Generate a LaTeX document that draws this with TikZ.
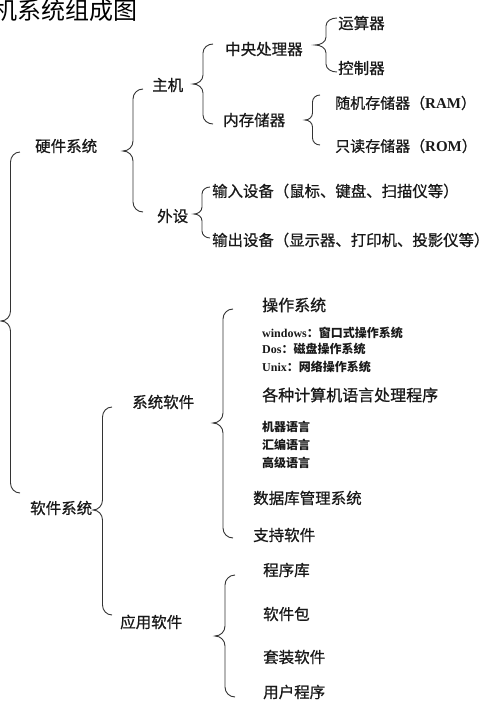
\documentclass[tikz,border=0pt]{standalone}
\usepackage{fontspec}
\newfontfamily\cjk[FakeBold=0.8]{Noto Sans CJK SC}
\newfontfamily\cjkt{Noto Sans CJK SC}
\newfontfamily\lser{Liberation Serif}
\tikzset{
  lbl/.style={inner sep=0pt, anchor=west, text=black!90, font=\cjk\fontsize{15.5}{17}\selectfont},
  lblbig/.style={lbl, font=\cjk\fontsize{16}{18}\selectfont},
  lblsmall/.style={lbl, font=\cjkt\bfseries\fontsize{12}{14}\selectfont},
  ttl/.style={inner sep=0pt, anchor=west, text=black, font=\cjkt\fontsize{24}{26}\selectfont},
  brc/.style={draw=black!80, line width=0.9pt}
}
% xtip, xend, ytop, ymid, ybot, radius
\newcommand\curlyb[6]{%
  \pgfmathsetmacro\bxm{(#1+#2)/2}%
  \pgfmathsetmacro\bya{#3+#6}%
  \pgfmathsetmacro\byb{#4-#6}%
  \pgfmathsetmacro\byc{#4+#6}%
  \pgfmathsetmacro\byd{#5-#6}%
  \draw[brc] (#2,#3) to[out=180,in=90] (\bxm,\bya)
    -- (\bxm,\byb) to[out=-90,in=0] (#1,#4)
    to[out=0,in=90] (\bxm,\byc)
    -- (\bxm,\byd) to[out=-90,in=180] (#2,#5);}
\begin{document}
\begin{tikzpicture}[x=1pt,y=-1pt]
\useasboundingbox (0,0) rectangle (500,707);
% title
\node[ttl] (title) at (-7,10) {机系统组成图};
% level 1
\node[lbl] (hw) at (35,146) {硬件系统};
\node[lbl] (sw) at (30,508) {软件系统};
% hardware
\node[lbl] (host) at (152,85) {主机};
\node[lbl] (periph) at (157,216) {外设};
\node[lbl] (cpu) at (225,49) {中央处理器};
\node[lbl] (mem) at (223,120) {内存储器};
\node[lbl] (alu) at (338,23) {运算器};
\node[lbl] (ctl) at (338,68) {控制器};
\node[lbl, font=\cjk\fontsize{15}{17}\selectfont] (ram) at (335,103) {随机存储器（{\lser\bfseries RAM}）};
\node[lbl, font=\cjk\fontsize{15}{17}\selectfont] (rom) at (335,146) {只读存储器（{\lser\bfseries ROM}）};
\node[lbl, font=\cjk\fontsize{15.4}{17}\selectfont] (in) at (212,191) {输入设备（鼠标、键盘、扫描仪等）};
\node[lbl, font=\cjk\fontsize{15.4}{17}\selectfont] (out) at (212,240) {输出设备（显示器、打印机、投影仪等）};
% software
\node[lbl] (sys) at (132,402) {系统软件};
\node[lbl] (app) at (120,622) {应用软件};
\node[lblbig] (os) at (262,305) {操作系统};
\node[lblsmall] (win) at (262,333) {{\lser\bfseries windows}：窗口式操作系统};
\node[lblsmall] (dos) at (262,349) {{\lser\bfseries Dos}：磁盘操作系统};
\node[lblsmall] (unix) at (262,367) {{\lser\bfseries Unix}：网络操作系统};
\node[lblbig] (lang) at (262,395) {各种计算机语言处理程序};
\node[lblsmall] (ml) at (262,427) {机器语言};
\node[lblsmall] (asm) at (262,445) {汇编语言};
\node[lblsmall] (hl) at (262,463) {高级语言};
\node[lbl] (db) at (253,498) {数据库管理系统};
\node[lbl] (sup) at (253,535) {支持软件};
\node[lbl] (lib) at (263,570) {程序库};
\node[lbl] (pkg) at (263,614) {软件包};
\node[lbl] (suite) at (263,657) {套装软件};
\node[lbl] (user) at (263,692) {用户程序};
% braces
\curlyb{1}{20}{152}{321}{493}{10}
\curlyb{123}{143}{89}{151}{212}{10}
\curlyb{193}{213}{44}{84}{124}{9}
\curlyb{315}{337}{18}{45}{72}{8}
\curlyb{305}{320}{95}{120}{145}{7}
\curlyb{194}{210}{187}{214}{238}{7}
\curlyb{93}{112}{407}{510}{615}{10}
\curlyb{213}{233}{309}{423}{538}{10}
\curlyb{215}{235}{575}{636}{697}{10}
\end{tikzpicture}
\end{document}
